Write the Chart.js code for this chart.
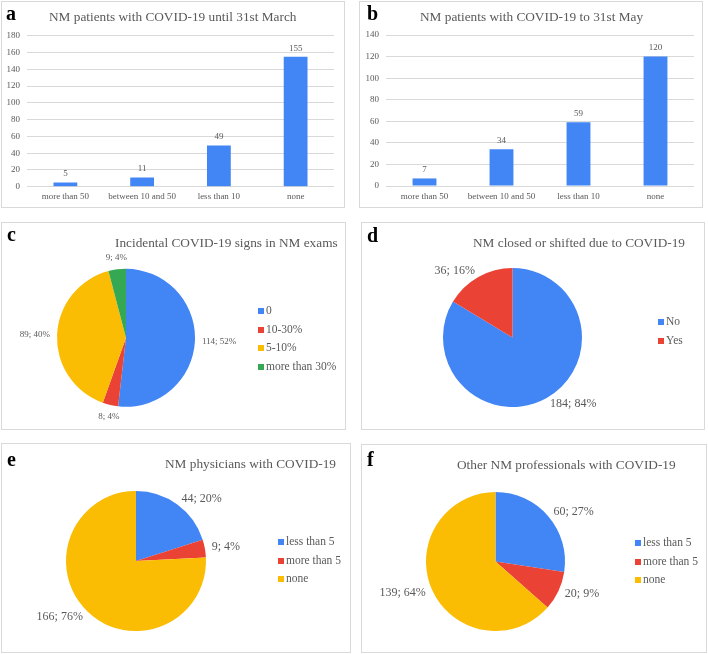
<!DOCTYPE html>
<html>
<head>
<meta charset="utf-8">
<script src="https://cdn.jsdelivr.net/npm/chart.js@4"></script>
<style>
  body { margin: 0; background: #fff; width: 708px; height: 654px; position: relative; overflow: hidden;
         font-family: "Liberation Serif", "Times New Roman", serif; color: #595959; }
  .panel { position: absolute; box-sizing: border-box; border: 1px solid #d9d9d9; }
  canvas { position: absolute; }
  .title { position: absolute; white-space: pre; line-height: 1; font-size: 13.3px; }
  .letter { position: absolute; line-height: 1; font-size: 20px; font-weight: bold; color: #000; }
  .legend { position: absolute; font-size: 11.5px; line-height: 1; }
  .legend div { display: flex; align-items: center; height: 18.5px; }
  .legend i { display: inline-block; width: 6px; height: 6px; margin-right: 2px; }
</style>
</head>
<body>
<script>
// data
const barCats = ['more than 50', 'between 10 and 50', 'less than 10', 'none'];
const marchVals = [5, 11, 49, 155];
const mayVals = [7, 34, 59, 120];
const signCats = ['0', '10-30%', '5-10%', 'more than 30%'];
const signVals = [114, 8, 89, 9];
const closedCats = ['No', 'Yes'];
const closedVals = [184, 36];
const staffCats = ['less than 5', 'more than 5', 'none'];
const physVals = [44, 9, 166];
const otherVals = [60, 20, 139];

const BLUE = '#4285f4', RED = '#ea4335', YELLOW = '#fbbc04', GREEN = '#34a853';
const GRAY = '#595959';
const SERIF = '"Liberation Serif", "Times New Roman", serif';

function box(r) {
  const d = document.createElement('div');
  d.className = 'panel';
  Object.assign(d.style, { left: r[0] + 'px', top: r[1] + 'px', width: r[2] + 'px', height: r[3] + 'px' });
  document.body.appendChild(d);
  const cv = document.createElement('canvas');
  cv.width = r[2]; cv.height = r[3];
  Object.assign(cv.style, { left: r[0] + 'px', top: r[1] + 'px', width: r[2] + 'px', height: r[3] + 'px' });
  document.body.appendChild(cv);
  return cv;
}

// text placed by its baseline
function text(cls, str, x, base, size) {
  const d = document.createElement('div');
  d.className = cls;
  d.textContent = str;
  d.style.left = x + 'px';
  d.style.top = (base - 0.8375 * size) + 'px';
  document.body.appendChild(d);
}

function legend(cats, colors, x, firstY) {
  const d = document.createElement('div');
  d.className = 'legend';
  d.style.left = x + 'px';
  d.style.top = (firstY - 9.25) + 'px';
  cats.forEach((c, i) => {
    const row = document.createElement('div');
    const sq = document.createElement('i');
    sq.style.background = colors[i];
    row.appendChild(sq);
    row.appendChild(document.createTextNode(c));
    d.appendChild(row);
  });
  document.body.appendChild(d);
}

// percentages that add up to 100 (largest remainder)
function percents(vals) {
  const sum = vals.reduce((a, b) => a + b, 0);
  const raw = vals.map(v => v * 100 / sum);
  const out = raw.map(Math.floor);
  let left = 100 - out.reduce((a, b) => a + b, 0);
  const order = raw.map((v, i) => i).sort((a, b) => (raw[b] - out[b]) - (raw[a] - out[a]));
  for (let k = 0; k < left; k++) out[order[k]]++;
  return out;
}

const barValues = {
  id: 'barValues',
  afterDatasetsDraw(chart) {
    const { ctx } = chart;
    const vals = chart.data.datasets[0].data;
    ctx.save();
    ctx.font = '9px ' + SERIF;
    ctx.fillStyle = GRAY;
    ctx.textAlign = 'center';
    ctx.textBaseline = 'bottom';
    chart.getDatasetMeta(0).data.forEach((bar, i) => ctx.fillText(vals[i], bar.x, bar.y - 4));
    ctx.restore();
  }
};

const pieLabels = {
  id: 'pieLabels',
  afterDatasetsDraw(chart, args, opts) {
    const { ctx } = chart;
    const vals = chart.data.datasets[0].data;
    const pcts = percents(vals);
    ctx.save();
    ctx.font = opts.size + 'px ' + SERIF;
    ctx.fillStyle = GRAY;
    chart.getDatasetMeta(0).data.forEach((arc, i) => {
      const p = arc.getProps(['x', 'y', 'startAngle', 'endAngle', 'outerRadius'], true);
      const mid = (p.startAngle + p.endAngle) / 2;
      const c = Math.cos(mid), s = Math.sin(mid);
      const r = p.outerRadius + opts.gap;
      if (c > 0.4) { ctx.textAlign = 'left'; ctx.textBaseline = 'middle'; }
      else if (c < -0.4) { ctx.textAlign = 'right'; ctx.textBaseline = 'middle'; }
      else { ctx.textAlign = 'center'; ctx.textBaseline = s < 0 ? 'bottom' : 'top'; }
      ctx.fillText(vals[i] + '; ' + pcts[i] + '%', p.x + c * r, p.y + s * r);
    });
    ctx.restore();
  }
};

function barChart(rect, vals, max, pad) {
  const cv = box(rect);
  new Chart(cv, {
    type: 'bar',
    data: { labels: barCats, datasets: [{ data: vals, backgroundColor: BLUE, barPercentage: 0.31, categoryPercentage: 1 }] },
    options: {
      responsive: false, animation: false, events: [],
      layout: { padding: pad },
      plugins: { legend: { display: false }, tooltip: { enabled: false } },
      scales: {
        x: {
          grid: { display: false, drawTicks: false }, border: { display: false },
          ticks: { color: GRAY, font: { family: SERIF, size: 9 }, padding: 5, maxRotation: 0, autoSkip: false },
          afterFit(s) { s.height = 18; }
        },
        y: {
          min: 0, max: max,
          grid: { color: '#d9d9d9', drawTicks: false }, border: { display: false },
          ticks: { stepSize: 20, color: GRAY, font: { family: SERIF, size: 9 }, padding: 7 },
          afterFit(s) { s.width = 22; }
        }
      }
    },
    plugins: [barValues]
  });
}

function pieChart(rect, cats, vals, colors, cx, cy, R, size) {
  const cv = box(rect);
  const S = R + 1;
  new Chart(cv, {
    type: 'pie',
    data: { labels: cats, datasets: [{ data: vals, backgroundColor: colors, borderWidth: 0, hoverOffset: 0, radius: R }] },
    options: {
      responsive: false, animation: false, events: [],
      layout: { padding: { left: cx - rect[0] - S, right: rect[0] + rect[2] - cx - S, top: cy - rect[1] - S, bottom: rect[1] + rect[3] - cy - S } },
      plugins: { legend: { display: false }, tooltip: { enabled: false }, pieLabels: { size: size, gap: 7 } }
    },
    plugins: [pieLabels]
  });
}

// a
barChart([1, 1, 344, 207], marchVals, 180, { left: 4, right: 11, top: 34.7, bottom: 3.3 });
text('letter', 'a', 6, 19.3, 20);
text('title', 'NM patients with COVID-19 until 31st March', 49, 21, 13.3);

// b
barChart([359, 1, 344, 207], mayVals, 140, { left: 5, right: 9, top: 34, bottom: 4 });
text('letter', 'b', 367, 19.3, 20);
text('title', 'NM patients with COVID-19 to 31st May', 420, 21, 13.3);

// c
pieChart([1, 222, 345, 208], signCats, signVals, [BLUE, RED, YELLOW, GREEN], 126, 337.8, 69, 9);
text('letter', 'c', 7, 241, 20);
text('title', 'Incidental COVID-19 signs in NM exams', 115, 247.5, 13.3);
legend(signCats, [BLUE, RED, YELLOW, GREEN], 258, 311);

// d
pieChart([361, 222, 344, 208], closedCats, closedVals, [BLUE, RED], 512.5, 337.5, 69.5, 12);
text('letter', 'd', 367, 241.7, 20);
text('title', 'NM closed or shifted due to COVID-19', 473, 247.5, 13.3);
legend(closedCats, [BLUE, RED], 658, 322);

// e
pieChart([1, 443, 350, 210], staffCats, physVals, [BLUE, RED, YELLOW], 136, 561, 70, 12);
text('letter', 'e', 7, 465.7, 20);
text('title', 'NM physicians with COVID-19', 165, 467.7, 13.3);
legend(staffCats, [BLUE, RED, YELLOW], 278, 542);

// f
pieChart([361, 444, 346, 209], staffCats, otherVals, [BLUE, RED, YELLOW], 495.5, 561.5, 69.5, 12);
text('letter', 'f', 367, 466, 20);
text('title', 'Other NM professionals with COVID-19', 457, 469.5, 13.3);
legend(staffCats, [BLUE, RED, YELLOW], 635, 543);
</script>
</body>
</html>
